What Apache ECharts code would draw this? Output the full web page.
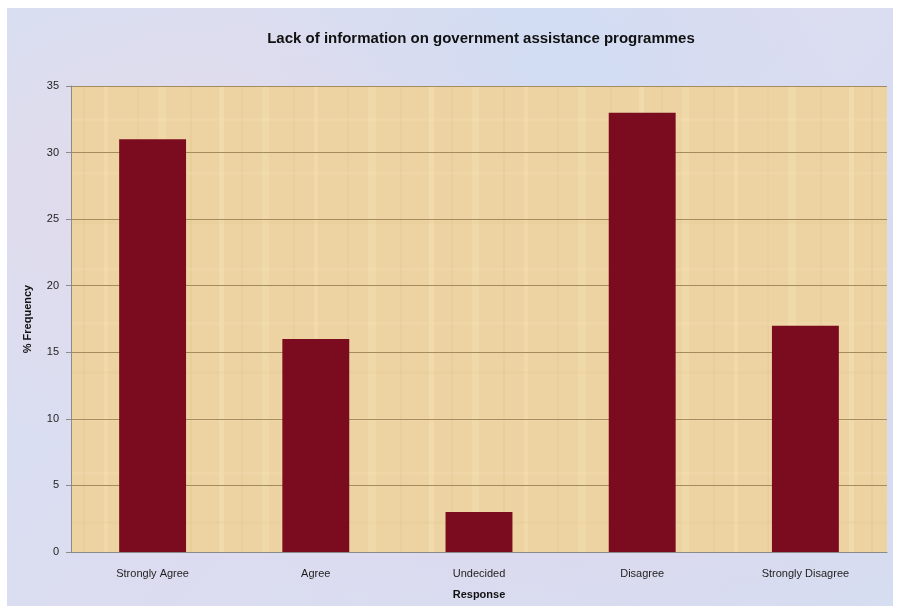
<!DOCTYPE html>
<html>
<head>
<meta charset="utf-8">
<script src="https://cdn.jsdelivr.net/npm/echarts@6/dist/echarts.min.js"></script>
<style>
  html, body { margin: 0; padding: 0; background: #ffffff; }
  #frame {
    position: absolute; left: 7px; top: 8px; width: 886px; height: 598px;
    background:
      radial-gradient(ellipse at 20% 30%, rgba(235,215,230,0.55), rgba(0,0,0,0) 45%),
      radial-gradient(ellipse at 75% 70%, rgba(225,210,232,0.5), rgba(0,0,0,0) 50%),
      radial-gradient(ellipse at 60% 15%, rgba(200,220,245,0.6), rgba(0,0,0,0) 40%),
      linear-gradient(135deg, #d6e0f2, #dcdcf0 50%, #d4dff2);
  }
  #chart { position: absolute; left: 0; top: 0; width: 898px; height: 611px; }
</style>
</head>
<body>
<div id="frame"></div>
<div id="chart"></div>
<script>
// Survey responses and their share of respondents (%)
const categories = ['Strongly Agree', 'Agree', 'Undecided', 'Disagree', 'Strongly Disagree'];
const frequency = [31, 16, 3, 33, 17];
const yTicks = { min: 0, max: 35, interval: 5 };

const chart = echarts.init(document.getElementById('chart'), null, { renderer: 'canvas' });

// Parchment-like fill for the plotting area: warm base with faint vertical fibres
function parchmentPattern() {
  const c = document.createElement('canvas');
  c.width = 210; c.height = 150;
  const g = c.getContext('2d');
  g.fillStyle = '#edd3a1';
  g.fillRect(0, 0, c.width, c.height);
  const streaks = [
    [9, 5, 'rgba(250,232,190,0.35)'], [31, 2, 'rgba(214,180,120,0.14)'],
    [52, 7, 'rgba(250,232,190,0.3)'], [83, 2, 'rgba(210,176,118,0.14)'],
    [104, 4, 'rgba(250,232,190,0.28)'], [137, 2, 'rgba(212,178,120,0.12)'],
    [158, 8, 'rgba(250,232,190,0.3)'], [190, 2, 'rgba(208,174,116,0.14)']
  ];
  streaks.forEach(([x, w, col]) => { g.fillStyle = col; g.fillRect(x, 0, w, c.height); });
  const bands = [[22, 'rgba(250,232,190,0.2)'], [71, 'rgba(215,182,125,0.1)'], [118, 'rgba(250,232,190,0.2)']];
  bands.forEach(([y, col]) => { g.fillStyle = col; g.fillRect(0, y, c.width, 3); });
  return c;
}

const axisText = { color: '#1e1e1e', fontFamily: 'Liberation Sans, Arial, sans-serif', fontSize: 11 };

chart.setOption({
  backgroundColor: 'transparent',
  title: {
    text: 'Lack of information on government assistance programmes',
    left: 476, top: 26, textAlign: 'center',
    textStyle: { fontFamily: 'Liberation Sans, Arial, sans-serif', fontSize: 15, fontWeight: 'bold', color: '#111111' }
  },
  grid: {
    left: 71, right: 11, top: 86, bottom: 59,
    show: true, borderWidth: 0,
    backgroundColor: { image: parchmentPattern(), repeat: 'repeat' }
  },
  xAxis: {
    type: 'category',
    data: categories,
    name: 'Response',
    nameLocation: 'middle',
    nameGap: 37,
    nameTextStyle: { ...axisText, fontWeight: 'bold', color: '#111111' },
    axisLine: { lineStyle: { color: '#8a8a8a', width: 1 } },
    axisTick: { show: false },
    axisLabel: { ...axisText, margin: 16 }
  },
  yAxis: {
    type: 'value',
    min: yTicks.min, max: yTicks.max, interval: yTicks.interval,
    name: '% Frequency',
    nameLocation: 'middle',
    nameGap: 38,
    nameTextStyle: { ...axisText, fontWeight: 'bold', color: '#111111' },
    axisLine: { show: true, lineStyle: { color: '#8a8a8a', width: 1 } },
    axisTick: { show: true, length: 5, lineStyle: { color: '#8a8a8a' } },
    axisLabel: { ...axisText, margin: 12 },
    splitLine: { lineStyle: { color: '#a48c5f', width: 1 } }
  },
  series: [{
    type: 'bar',
    data: frequency,
    barWidth: '41%',
    itemStyle: { color: '#7b0c20' }
  }]
});
</script>
</body>
</html>
